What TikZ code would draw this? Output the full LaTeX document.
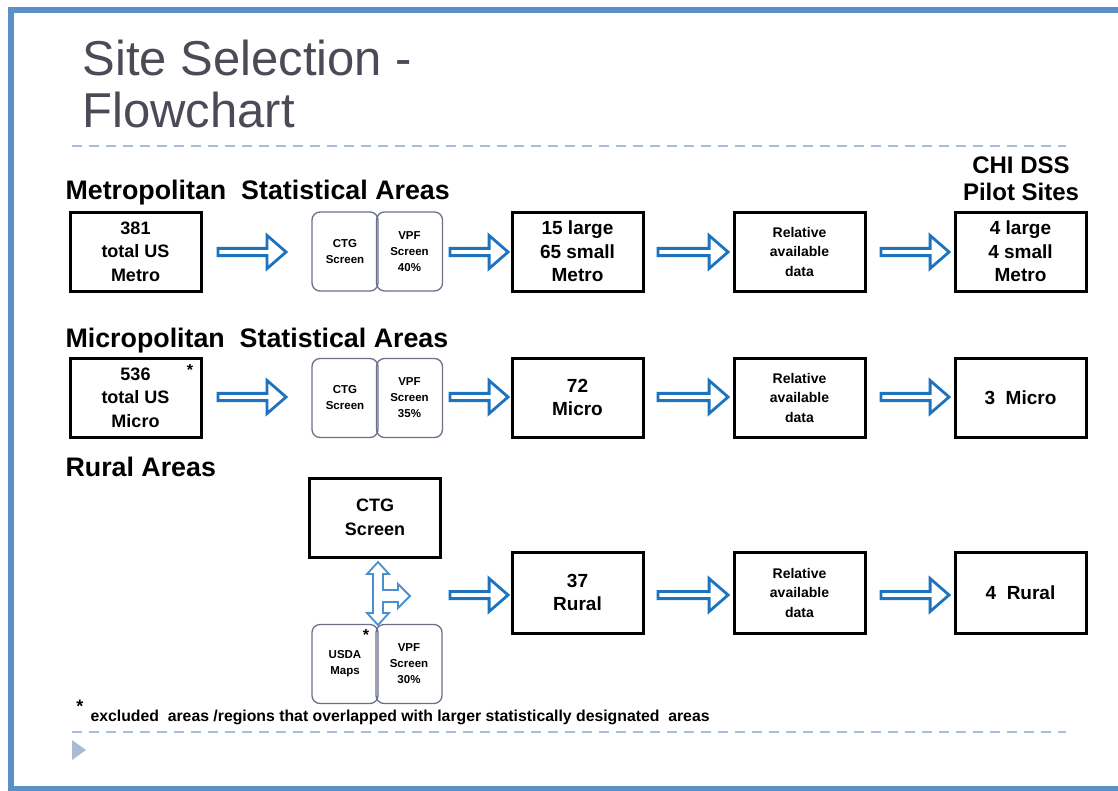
\documentclass[tikz,border=0pt]{standalone}
\usepackage{fontspec}
\setmainfont{Liberation Sans}
\usetikzlibrary{shapes.arrows}
\definecolor{frameblue}{HTML}{5B8FC7}
\definecolor{arrowblue}{HTML}{1E73BE}
\definecolor{lightarrow}{HTML}{4A90D0}
\definecolor{dashcol}{HTML}{A9BDD6}
\definecolor{titlecol}{HTML}{4B4B57}
\definecolor{roundcol}{HTML}{6B7088}
\definecolor{tricol}{HTML}{A7BCD4}
\newcommand{\fsz}[2]{\fontsize{#1}{#2}\selectfont}
\begin{document}
\begin{tikzpicture}[x=1pt,y=-1pt,
  bigbox/.style={draw=black, line width=3, minimum width=131, minimum height=79, align=center, inner sep=0, font=\bfseries\fsz{18}{23.5}},
  smallbox/.style={draw=roundcol, rounded corners=8, line width=1.3, minimum width=66, minimum height=79, align=center, inner sep=0, font=\bfseries\fsz{11.5}{16}},
  blockarrow/.style={single arrow, draw=arrowblue, line width=2.8, fill=white, minimum width=33, single arrow head extend=5, single arrow tip angle=82, inner sep=0, outer sep=0, minimum height=#1},
  header/.style={anchor=base west, font=\bfseries\fsz{26.8}{30}},
  dashline/.style={draw=dashcol, line width=1.8, dash pattern=on 10 off 7}
]
\useasboundingbox (0,0) rectangle (1118,790);
\fill[white] (0,0) rectangle (1118,790);
% frame
\draw[frameblue, line width=6] (1130,10) -- (10.5,10) -- (10.5,788.5) -- (1130,788.5);
% title
\node[anchor=base west, text=titlecol, font=\fsz{49}{52}] (t1) at (79,75) {Site Selection -};
\node[anchor=base west, text=titlecol, font=\fsz{49}{52}] (t2) at (79,127) {Flowchart};
\coordinate (d1a) at (72,146); \coordinate (d1b) at (1066,146);
\draw[dashline] (d1a) -- (d1b);
\coordinate (d2a) at (72,732); \coordinate (d2b) at (1066,732);
\draw[dashline] (d2a) -- (d2b);
\fill[tricol] (72,740) -- (86,750) -- (72,760) -- cycle;

% headers
\node[header] (hmetro) at (62,199) {Metropolitan\ \ Statistical Areas};
\node[header] (hmicro) at (62,347) {Micropolitan\ \ Statistical Areas};
\node[header] (hrural) at (62,476) {Rural Areas};
\node[align=center, font=\bfseries\fsz{24}{27}] (hchi) at (1021,179) {CHI DSS\\Pilot Sites};

% metro row
\node[bigbox] (m1) at (135.5,251.5) {381\\total US\\Metro};
\node[smallbox] (m2a) at (345,251.5) {CTG\\Screen};
\node[smallbox] (m2b) at (409.5,251.5) {VPF\\Screen\\40\%};
\node[bigbox, font=\bfseries\fsz{19}{23.5}] (m3) at (577.5,251.5) {15 large\\65 small\\Metro};
\node[bigbox, font=\bfseries\fsz{14}{19.5}] (m4) at (799.5,251.5) {Relative\\available\\data};
\node[bigbox, font=\bfseries\fsz{19}{23.5}] (m5) at (1020.5,251.5) {4 large\\4 small\\Metro};
\node[blockarrow=68] (ma1) at (250,252) {};
\node[blockarrow=58] (ma2) at (477,252) {};
\node[blockarrow=70] (ma3) at (691,252) {};
\node[blockarrow=68] (ma4) at (913,252) {};

% micro row
\node[bigbox] (c1) at (135.5,397.5) {536\\total US\\Micro};
\node[font=\bfseries\fsz{16}{16}] (c1star) at (190,370) {*};
\node[smallbox] (c2a) at (345,398) {CTG\\Screen};
\node[smallbox] (c2b) at (409.5,398) {VPF\\Screen\\35\%};
\node[bigbox, font=\bfseries\fsz{19}{23.5}] (c3) at (577.5,397.5) {72\\Micro};
\node[bigbox, font=\bfseries\fsz{14}{19.5}] (c4) at (799.5,397.5) {Relative\\available\\data};
\node[bigbox, font=\bfseries\fsz{19}{23.5}] (c5) at (1020.5,397.5) {3\ \ Micro};
\node[blockarrow=68] (ca1) at (250,397) {};
\node[blockarrow=58] (ca2) at (477,397) {};
\node[blockarrow=70] (ca3) at (691,397) {};
\node[blockarrow=68] (ca4) at (913,397) {};

% rural row
\node[bigbox] (r0) at (375,517.5) {CTG\\Screen};
\node[smallbox] (r2a) at (345,664) {USDA\\Maps};
\node[font=\bfseries\fsz{16}{16}] (r2star) at (366,635) {*};
\node[smallbox] (r2b) at (409,664) {VPF\\Screen\\30\%};
\node[bigbox, minimum height=81, font=\bfseries\fsz{19}{23.5}] (r3) at (577.5,592.5) {37\\Rural};
\node[bigbox, minimum height=81, font=\bfseries\fsz{14}{19.5}] (r4) at (799.5,592.5) {Relative\\available\\data};
\node[bigbox, minimum height=81, font=\bfseries\fsz{19}{23.5}] (r5) at (1020.5,592.5) {4\ \ Rural};
\node[blockarrow=58] (ra2) at (477,595) {};
\node[blockarrow=70] (ra3) at (691,595) {};
\node[blockarrow=68] (ra4) at (913,595) {};
% three-way arrow
\draw[lightarrow, line width=1.8, fill=white, line join=miter]
  (378,562) -- (389,574) -- (383,574) -- (383,590) -- (398,590) -- (398,584) -- (410,596)
  -- (398,608) -- (398,602) -- (383,602) -- (383,613) -- (389,613) -- (378,625)
  -- (367,613) -- (373,613) -- (373,574) -- (367,574) -- cycle;

% footnote
\node[font=\bfseries\fsz{18}{18}] (fstar) at (80,706) {*};
\node[anchor=base west, font=\bfseries\fsz{15.8}{17}] (fnote) at (87,721) {excluded\ \ areas /regions that overlapped with larger statistically designated\ \ areas};
\end{tikzpicture}
\end{document}
